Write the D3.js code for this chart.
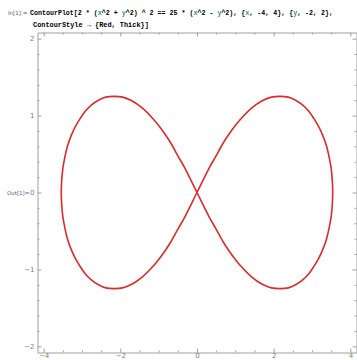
<!DOCTYPE html>
<html lang="en">
<head>
<meta charset="UTF-8">
<script src="https://cdn.jsdelivr.net/npm/d3@7"></script>
<style>
  body { margin: 0; background: #fff; }
</style>
</head>
<body>
<div id="chart"></div>
<script>
// plot range of the ContourPlot (with Mathematica's small padding)
var xRange = [-4.16, 4.16];
var yRange = [-2.08, 2.08];

var xMajor = [-4, -2, 0, 2, 4];
var xMinor = [-3.5, -3, -2.5, -1.5, -1, -0.5, 0.5, 1, 1.5, 2.5, 3, 3.5];
var yMajor = [-2, -1, 0, 1, 2];
var yMinor = [-1.8, -1.6, -1.4, -1.2, -0.8, -0.6, -0.4, -0.2, 0.2, 0.4, 0.6, 0.8, 1.2, 1.4, 1.6, 1.8];

// contour points, each lobe traced from the origin
var rightLobe = [
  [0, 0], [0.33, 0.33], [0.48, 0.46], [0.68, 0.64], [0.85, 0.77], [1.0, 0.87], [1.13, 0.95],
  [1.43, 1.1], [1.69, 1.19], [1.94, 1.24], [2.17, 1.25], [2.38, 1.24], [2.57, 1.2],
  [2.75, 1.14], [2.91, 1.06], [3.05, 0.96], [3.18, 0.85], [3.29, 0.73], [3.38, 0.6],
  [3.45, 0.45], [3.5, 0.31], [3.53, 0.15], [3.54, 0],
  [3.53, -0.15], [3.5, -0.31], [3.45, -0.45], [3.38, -0.6], [3.29, -0.73], [3.18, -0.85],
  [3.05, -0.96], [2.91, -1.06], [2.75, -1.14], [2.57, -1.2], [2.38, -1.24], [2.17, -1.25],
  [1.94, -1.24], [1.69, -1.19], [1.43, -1.1], [1.13, -0.95], [1.0, -0.87], [0.85, -0.77],
  [0.68, -0.64], [0.48, -0.46], [0.33, -0.33]
];
var leftLobe = [
  [0, 0], [-0.33, 0.33], [-0.48, 0.46], [-0.68, 0.64], [-0.85, 0.77], [-1.0, 0.87], [-1.13, 0.95],
  [-1.43, 1.1], [-1.69, 1.19], [-1.94, 1.24], [-2.17, 1.25], [-2.38, 1.24], [-2.57, 1.2],
  [-2.75, 1.14], [-2.91, 1.06], [-3.05, 0.96], [-3.18, 0.85], [-3.29, 0.73], [-3.38, 0.6],
  [-3.45, 0.45], [-3.5, 0.31], [-3.53, 0.15], [-3.54, 0],
  [-3.53, -0.15], [-3.5, -0.31], [-3.45, -0.45], [-3.38, -0.6], [-3.29, -0.73], [-3.18, -0.85],
  [-3.05, -0.96], [-2.91, -1.06], [-2.75, -1.14], [-2.57, -1.2], [-2.38, -1.24], [-2.17, -1.25],
  [-1.94, -1.24], [-1.69, -1.19], [-1.43, -1.1], [-1.13, -0.95], [-1.0, -0.87], [-0.85, -0.77],
  [-0.68, -0.64], [-0.48, -0.46], [-0.33, -0.33]
];

var W = 357, H = 360;
var svg = d3.select("#chart").append("svg")
  .attr("width", W).attr("height", H);

var teal = "#3f8a8a";
var mono = "'Liberation Mono', 'DejaVu Sans Mono', monospace";

// input cell
svg.append("text").attr("x", 8).attr("y", 15)
  .style("font-family", "'DejaVu Sans', sans-serif").style("font-size", "5.5px")
  .style("fill", "#55607f").text("In[1]:=");

var line1 = [
  ["ContourPlot[2 * (", "#000"], ["x", teal], ["^2 + ", "#000"], ["y", teal],
  ["^2) ^ 2 == 25 * (", "#000"], ["x", teal], ["^2 - ", "#000"], ["y", teal],
  ["^2), {", "#000"], ["x", teal], [", -4, 4}, {", "#000"], ["y", teal], [", -2, 2},", "#000"]
];
var t1 = svg.append("text").attr("x", 30).attr("y", 15)
  .style("font-family", mono).style("font-size", "6.65px").style("font-weight", "bold");
t1.selectAll("tspan").data(line1).enter().append("tspan")
  .style("fill", d => d[1]).text(d => d[0]);

svg.append("text").attr("x", 33).attr("y", 27)
  .style("font-family", mono).style("font-size", "6.9px").style("font-weight", "bold")
  .text("ContourStyle \u2192 {Red, Thick}]");

svg.append("text").attr("x", 7).attr("y", 195)
  .style("font-family", "'DejaVu Sans', sans-serif").style("font-size", "5.5px")
  .style("fill", "#55607f").text("Out[1]=");

// plot
var x = d3.scaleLinear().domain(xRange).range([37.5, 356.5]);
var y = d3.scaleLinear().domain(yRange).range([352.5, 32.5]);

var frameCol = "#a0a0a0";
var fmt = d => d < 0 ? "\u2212" + Math.abs(d) : String(d);

function styleAxis(g) {
  g.selectAll("path").attr("stroke", frameCol);
  g.selectAll("line").attr("stroke", frameCol);
  g.selectAll("text").style("fill", "#808080")
    .style("font-family", "'DejaVu Sans', sans-serif").style("font-size", "7px");
}

// bottom
svg.append("g").attr("transform", "translate(0," + y.range()[0] + ")")
  .call(d3.axisBottom(x).tickValues(xMajor).tickFormat(fmt).tickSizeInner(-4).tickSizeOuter(0).tickPadding(1))
  .call(styleAxis);
svg.append("g").attr("transform", "translate(0," + y.range()[0] + ")")
  .call(d3.axisBottom(x).tickValues(xMinor).tickFormat("").tickSizeInner(-2).tickSizeOuter(0))
  .call(g => g.select(".domain").remove()).call(styleAxis);
// top
svg.append("g").attr("transform", "translate(0," + y.range()[1] + ")")
  .call(d3.axisTop(x).tickValues(xMajor).tickFormat("").tickSizeInner(-4).tickSizeOuter(0))
  .call(styleAxis);
svg.append("g").attr("transform", "translate(0," + y.range()[1] + ")")
  .call(d3.axisTop(x).tickValues(xMinor).tickFormat("").tickSizeInner(-2).tickSizeOuter(0))
  .call(g => g.select(".domain").remove()).call(styleAxis);
// left
svg.append("g").attr("transform", "translate(" + x.range()[0] + ",0)")
  .call(d3.axisLeft(y).tickValues(yMajor).tickFormat(fmt).tickSizeInner(-4).tickSizeOuter(0).tickPadding(3))
  .call(styleAxis);
svg.append("g").attr("transform", "translate(" + x.range()[0] + ",0)")
  .call(d3.axisLeft(y).tickValues(yMinor).tickFormat("").tickSizeInner(-2).tickSizeOuter(0))
  .call(g => g.select(".domain").remove()).call(styleAxis);
// right
svg.append("g").attr("transform", "translate(" + x.range()[1] + ",0)")
  .call(d3.axisRight(y).tickValues(yMajor).tickFormat("").tickSizeInner(-4).tickSizeOuter(0))
  .call(styleAxis);
svg.append("g").attr("transform", "translate(" + x.range()[1] + ",0)")
  .call(d3.axisRight(y).tickValues(yMinor).tickFormat("").tickSizeInner(-2).tickSizeOuter(0))
  .call(g => g.select(".domain").remove()).call(styleAxis);

// contour
var line = d3.line()
  .x(d => x(d[0])).y(d => y(d[1]))
  .curve(d3.curveCatmullRomClosed.alpha(0.5));

svg.append("path")
  .datum(rightLobe.concat(leftLobe))
  .attr("d", line)
  .attr("fill", "none")
  .attr("stroke", "#dd2a2a")
  .attr("stroke-width", 1.6)
  .attr("stroke-linejoin", "round");
</script>
</body>
</html>
